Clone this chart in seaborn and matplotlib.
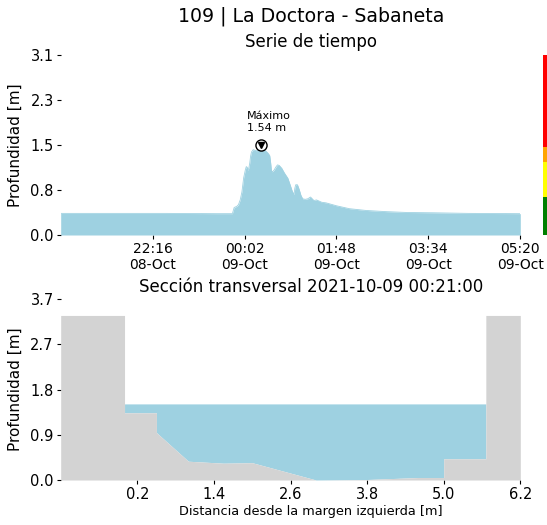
import numpy as np
import pandas as pd
import matplotlib
matplotlib.use("Agg")
import matplotlib.pyplot as plt
import seaborn as sns

# Serie de tiempo (profundidad en m)
series_times = [
    "2021-10-08 20:30", "2021-10-08 21:30", "2021-10-08 22:30", "2021-10-08 23:30",
    "2021-10-08 23:48", "2021-10-08 23:50", "2021-10-08 23:53", "2021-10-08 23:55",
    "2021-10-08 23:57", "2021-10-08 23:59", "2021-10-09 00:01", "2021-10-09 00:02",
    "2021-10-09 00:03", "2021-10-09 00:04", "2021-10-09 00:05", "2021-10-09 00:06",
    "2021-10-09 00:07", "2021-10-09 00:08", "2021-10-09 00:09", "2021-10-09 00:10",
    "2021-10-09 00:12", "2021-10-09 00:14", "2021-10-09 00:16", "2021-10-09 00:18",
    "2021-10-09 00:20", "2021-10-09 00:21", "2021-10-09 00:22", "2021-10-09 00:25",
    "2021-10-09 00:27", "2021-10-09 00:29", "2021-10-09 00:31", "2021-10-09 00:32",
    "2021-10-09 00:33", "2021-10-09 00:34", "2021-10-09 00:36", "2021-10-09 00:38",
    "2021-10-09 00:40", "2021-10-09 00:42", "2021-10-09 00:45", "2021-10-09 00:48",
    "2021-10-09 00:52", "2021-10-09 00:55", "2021-10-09 00:57", "2021-10-09 00:59",
    "2021-10-09 01:00", "2021-10-09 01:01", "2021-10-09 01:03", "2021-10-09 01:05",
    "2021-10-09 01:07", "2021-10-09 01:09", "2021-10-09 01:12", "2021-10-09 01:15",
    "2021-10-09 01:18", "2021-10-09 01:20", "2021-10-09 01:22", "2021-10-09 01:25",
    "2021-10-09 01:28", "2021-10-09 01:31", "2021-10-09 01:36", "2021-10-09 01:48",
    "2021-10-09 02:03", "2021-10-09 02:22", "2021-10-09 02:45", "2021-10-09 03:10",
    "2021-10-09 03:40", "2021-10-09 04:20", "2021-10-09 05:20",
]
series_depth = [
    0.37, 0.37, 0.37, 0.365,
    0.365, 0.47, 0.49, 0.52,
    0.60, 0.74, 0.98, 1.05,
    1.12, 1.17, 1.16, 1.10,
    1.15, 1.23, 1.35, 1.42,
    1.46, 1.45, 1.44, 1.46,
    1.46, 1.54, 1.46, 1.45,
    1.43, 1.40, 1.36, 1.25,
    1.10, 1.08, 1.11, 1.16,
    1.20, 1.19, 1.14, 1.06,
    0.97, 0.84, 0.75, 0.69,
    0.80, 0.86, 0.86, 0.78,
    0.68, 0.62, 0.61, 0.62,
    0.65, 0.62, 0.59, 0.60,
    0.58, 0.56, 0.55, 0.50,
    0.45, 0.42, 0.40, 0.385,
    0.38, 0.37, 0.365,
]

# Niveles de alerta (barra de colores)
alert_levels = [0.0, 0.65, 1.25, 1.5, 3.08]
alert_colors = ["green", "yellow", "orange", "red"]

# Sección transversal
section_x = [-1.0, 0.0, 0.0, 0.5, 0.5, 1.0, 1.55, 2.0, 3.0, 3.8, 4.6, 5.0, 5.0, 5.66, 5.66, 6.2]
section_z = [3.33, 3.33, 1.36, 1.36, 0.96, 0.38, 0.34, 0.35, 0.0, 0.01, 0.05, 0.05, 0.43, 0.43, 3.33, 3.33]
water_level = 1.54

agua = "#9ed1e1"
tierra = "lightgray"

sns.set_theme(style="ticks")
plt.rcParams["font.family"] = ["DejaVu Sans"]
plt.rcParams["text.color"] = "black"
plt.rcParams["axes.labelcolor"] = "black"
plt.rcParams["xtick.color"] = "black"
plt.rcParams["ytick.color"] = "black"
plt.rcParams["xtick.major.size"] = 3
plt.rcParams["ytick.major.size"] = 3
plt.rcParams["xtick.major.width"] = 0.8
plt.rcParams["ytick.major.width"] = 0.8
plt.rcParams["xtick.major.pad"] = 2
plt.rcParams["ytick.major.pad"] = 2

W, H = 547, 525
fig = plt.figure(figsize=(W / 100, H / 100), dpi=100)

def caja(x0, y_top, x1, y_bot):
    return [x0 / W, 1 - y_bot / H, (x1 - x0) / W, (y_bot - y_top) / H]

# ---------- Serie de tiempo ----------
ax1 = fig.add_axes(caja(60.7, 55, 520.3, 235))
df = pd.DataFrame({"fecha": pd.to_datetime(series_times), "prof": series_depth})
ax1.fill_between(df["fecha"], 0, df["prof"], color=agua, linewidth=0)
sns.lineplot(data=df, x="fecha", y="prof", color=agua, linewidth=0.6, ax=ax1)

imax = df["prof"].idxmax()
tmax, vmax = df.loc[imax, "fecha"], df.loc[imax, "prof"]
ax1.plot([tmax], [vmax], marker="o", markersize=8, mfc="white", mec="black", mew=1, zorder=5)
ax1.plot([tmax], [vmax], marker="v", markersize=4.5, color="black", zorder=6)
ax1.annotate(f"Máximo\n{vmax:.2f} m", xy=(tmax, vmax), xytext=(-14, 12),
             textcoords="offset pixels", ha="left", va="bottom", fontsize=8)

t0 = df["fecha"].iloc[0]
t1 = df["fecha"].iloc[-1]
ax1.set_xlim(t0, t1)
ticks_t = pd.date_range(t0, t1, periods=6)[1:]
ax1.set_xticks(ticks_t)
ax1.set_xticklabels([t.strftime("%H:%M\n%d-%b") for t in ticks_t], fontsize=10)
ymax1 = 2 * vmax
ax1.set_ylim(0, ymax1)
yt1 = np.linspace(0, ymax1, 5)
ax1.set_yticks(yt1)
ax1.set_yticklabels([f"{v:.1f}" for v in yt1], fontsize=10.5)
ax1.set_xlabel("")
ax1.set_ylabel("")
sns.despine(ax=ax1, left=True, bottom=True)

# barra de niveles de alerta
axc = fig.add_axes(caja(543.3, 55, 551.3, 235))
for lo, hi, c in zip(alert_levels[:-1], alert_levels[1:], alert_colors):
    axc.bar(0, hi - lo, bottom=lo, width=1, color=c, linewidth=0)
axc.set_xlim(-0.5, 0.5)
axc.set_ylim(0, ymax1)
axc.axis("off")

# ---------- Sección transversal ----------
ax2 = fig.add_axes(caja(60.7, 299, 520.3, 480))
sx = np.array(section_x)
sz = np.array(section_z)
ax2.fill_between(sx, np.minimum(sz, water_level), water_level, color=agua, linewidth=0)
ax2.fill_between(sx, 0, sz, color=tierra, linewidth=0)
ax2.set_xlim(sx.min(), sx.max())
xt2 = np.linspace(sx.min(), sx.max(), 7)[1:]
ax2.set_xticks(xt2)
ax2.set_xticklabels([f"{v:.1f}" for v in xt2], fontsize=10.5)
ymax2 = 1.1 * sz.max()
ax2.set_ylim(0, ymax2)
yt2 = np.linspace(0, ymax2, 5)
ax2.set_yticks(yt2)
ax2.set_yticklabels([f"{v:.1f}" for v in yt2], fontsize=10.5)
sns.despine(ax=ax2, left=True, bottom=True)

# ---------- Textos ----------
cx = 311 / W
fig.text(cx, 1 - 16 / H, "109 | La Doctora - Sabaneta", ha="center", va="center", fontsize=13.6)
fig.text(cx, 1 - 42 / H, "Serie de tiempo", ha="center", va="center", fontsize=12)
fig.text(cx, 1 - 287 / H, "Sección transversal 2021-10-09 00:21:00", ha="center", va="center", fontsize=12)
fig.text(cx, 1 - 511.5 / H, "Distancia desde la margen izquierda [m]", ha="center", va="center", fontsize=9.3)
fig.text(15.7 / W, 1 - 145 / H, "Profundidad [m]", rotation=90, ha="center", va="center", fontsize=11)
fig.text(15.7 / W, 1 - 389.5 / H, "Profundidad [m]", rotation=90, ha="center", va="center", fontsize=11)

fig.savefig("out.png", dpi=100)
